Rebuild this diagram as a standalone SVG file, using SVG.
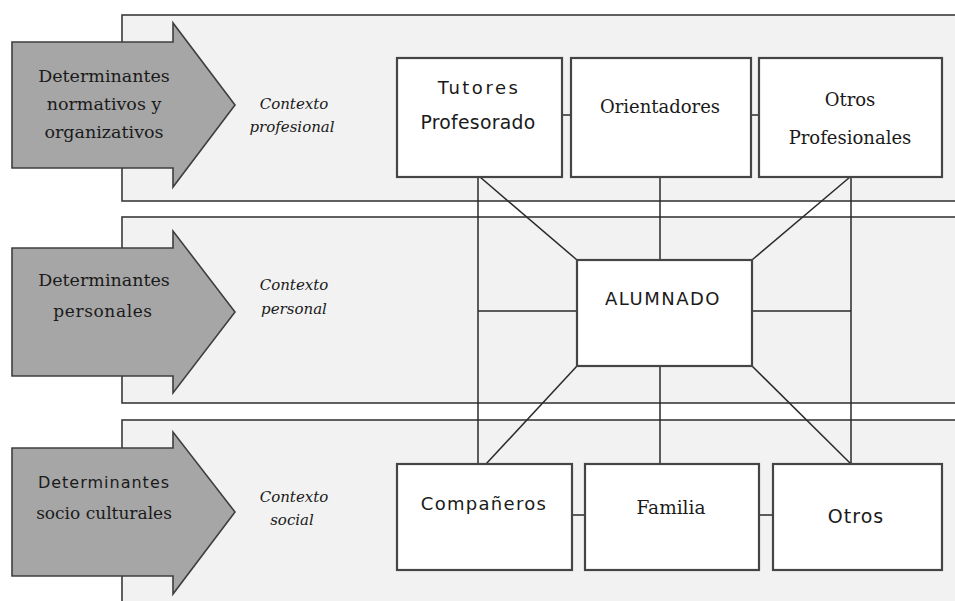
<svg xmlns="http://www.w3.org/2000/svg" width="955" height="601" viewBox="0 0 955 601">
  <style>
    .band { fill: #f2f2f2; stroke: #3a3a3a; stroke-width: 1.6; }
    .arrow { fill: #a6a6a6; stroke: #3f3f3f; stroke-width: 1.6; stroke-linejoin: miter; }
    .box { fill: #ffffff; stroke: #454545; stroke-width: 2.2; }
    .link { stroke: #2a2a2a; stroke-width: 1.5; fill: none; }
    .serif { font-family: "DejaVu Serif", "Liberation Serif", serif; fill: #1a1a1a; }
    .sans { font-family: "DejaVu Sans", "Liberation Sans", sans-serif; fill: #1a1a1a; }
    .ctx { font-family: "DejaVu Serif", "Liberation Serif", serif; font-style: italic; font-size: 15px; fill: #1a1a1a; }
    text { text-anchor: middle; dominant-baseline: central; }
  </style>

  <rect width="955" height="601" fill="#ffffff"/>

  <!-- context bands -->
  <g id="bands">
    <rect class="band" x="122" y="15" width="850" height="186"/>
    <rect class="band" x="122" y="217" width="850" height="186"/>
    <rect class="band" x="122" y="420" width="850" height="200"/>
  </g>

  <!-- determinant arrows -->
  <g id="arrow-normativos">
    <polygon class="arrow" points="12,42 173,42 173,23 235,105 173,187 173,168 12,168"/>
    <text class="serif" font-size="17.5" x="104" y="76">Determinantes</text>
    <text class="serif" font-size="17.5" x="104" y="104">normativos y</text>
    <text class="serif" font-size="17.5" x="104" y="132">organizativos</text>
  </g>
  <g id="arrow-personales">
    <polygon class="arrow" points="12,248 173,248 173,231 235,312 173,393 173,376 12,376"/>
    <text class="serif" font-size="17.5" x="104" y="280">Determinantes</text>
    <text class="serif" font-size="17" x="103" y="311" letter-spacing="0.6">personales</text>
  </g>
  <g id="arrow-socioculturales">
    <polygon class="arrow" points="12,448 173,448 173,432 235,512 173,594 173,576 12,576"/>
    <text class="sans" font-size="16" x="104" y="482" letter-spacing="1">Determinantes</text>
    <text class="serif" font-size="17" x="104" y="513">socio culturales</text>
  </g>

  <!-- context labels -->
  <g id="ctx-profesional">
    <text class="ctx" x="294" y="104">Contexto</text>
    <text class="ctx" x="292" y="127">profesional</text>
  </g>
  <g id="ctx-personal">
    <text class="ctx" x="294" y="285">Contexto</text>
    <text class="ctx" x="294" y="309">personal</text>
  </g>
  <g id="ctx-social">
    <text class="ctx" x="294" y="497">Contexto</text>
    <text class="ctx" x="292" y="520">social</text>
  </g>

  <!-- connectors -->
  <g id="connectors">
    <line class="link" x1="562" y1="115" x2="571" y2="115"/>
    <line class="link" x1="751" y1="115" x2="759" y2="115"/>
    <line class="link" x1="572" y1="515" x2="585" y2="515"/>
    <line class="link" x1="759" y1="515" x2="773" y2="515"/>
    <line class="link" x1="478" y1="177" x2="478" y2="464"/>
    <line class="link" x1="851" y1="177" x2="851" y2="464"/>
    <line class="link" x1="660" y1="177" x2="660" y2="260"/>
    <line class="link" x1="660" y1="366" x2="660" y2="464"/>
    <line class="link" x1="478" y1="311" x2="577" y2="311"/>
    <line class="link" x1="752" y1="311" x2="851" y2="311"/>
    <line class="link" x1="480" y1="177" x2="577" y2="260"/>
    <line class="link" x1="850" y1="177" x2="752" y2="260"/>
    <line class="link" x1="577" y1="366" x2="486" y2="464"/>
    <line class="link" x1="752" y1="366" x2="851" y2="464"/>
  </g>

  <!-- nodes -->
  <g id="tutores">
    <rect class="box" x="397" y="58" width="165" height="119"/>
    <text class="sans" font-size="18" x="479" y="87" letter-spacing="2.5">Tutores</text>
    <text class="sans" font-size="18.8" x="478" y="122" letter-spacing="0.3">Profesorado</text>
  </g>
  <g id="orientadores">
    <rect class="box" x="571" y="58" width="180" height="119"/>
    <text class="serif" font-size="18" x="660" y="106">Orientadores</text>
  </g>
  <g id="otros-profesionales">
    <rect class="box" x="759" y="58" width="183" height="119"/>
    <text class="serif" font-size="18" x="850" y="99">Otros</text>
    <text class="serif" font-size="18" x="850" y="137">Profesionales</text>
  </g>
  <g id="alumnado">
    <rect class="box" x="577" y="260" width="175" height="106"/>
    <text class="sans" font-size="18" x="663" y="298" letter-spacing="1.5">ALUMNADO</text>
  </g>
  <g id="companeros">
    <rect class="box" x="397" y="464" width="175" height="106"/>
    <text class="sans" font-size="18" x="484" y="503" letter-spacing="1.3">Compañeros</text>
  </g>
  <g id="familia">
    <rect class="box" x="585" y="464" width="174" height="106"/>
    <text class="serif" font-size="18.5" x="671" y="507">Familia</text>
  </g>
  <g id="otros">
    <rect class="box" x="773" y="464" width="169" height="106"/>
    <text class="sans" font-size="19" x="856" y="516" letter-spacing="1">Otros</text>
  </g>
</svg>
